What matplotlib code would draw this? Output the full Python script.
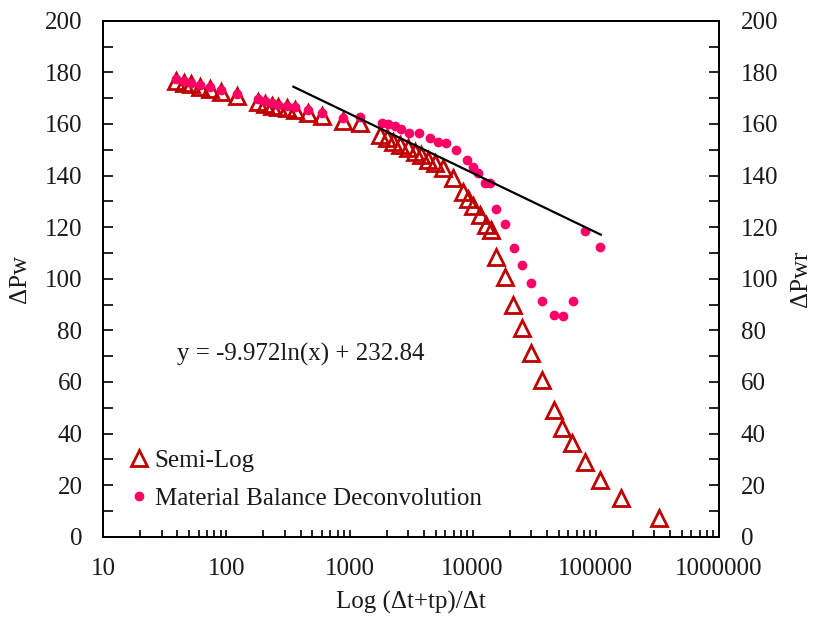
import numpy as np
import matplotlib
matplotlib.use('Agg')
import matplotlib.pyplot as plt
from matplotlib.ticker import MultipleLocator, LogLocator, FuncFormatter, NullFormatter

plt.rcParams['font.family'] = ['Liberation Serif', 'DejaVu Serif']
plt.rcParams['text.color'] = '#1a1a1a'
plt.rcParams['axes.labelcolor'] = '#1a1a1a'
plt.rcParams['xtick.color'] = 'black'
plt.rcParams['ytick.color'] = 'black'
plt.rcParams['xtick.labelcolor'] = '#1a1a1a'
plt.rcParams['ytick.labelcolor'] = '#1a1a1a'

# Semi-Log points
semi_x = [39, 45, 52, 61, 73, 91, 122,
          181, 205, 233, 263, 308, 360, 462, 593, 888, 1213,
          1760, 2010, 2270, 2560, 2990, 3390, 3840, 4350, 4920, 5750, 6940,
          8360, 9200, 10100, 11500, 12950, 14200,
          15600, 18240, 21300, 25400, 29600, 36800, 45500, 53500, 64500,
          81300, 107700, 161300, 326000]
semi_y = [176.7, 175.7, 175.3, 174.4, 173.5, 172.2, 170.9,
          168.4, 167.7, 167.1, 166.4, 166.0, 165.4, 164.3, 163.1, 161.1, 160.5,
          155.7, 154.4, 153.1, 151.8, 150.5, 149.2, 147.9, 146.0, 144.7, 142.8, 138.9,
          133.7, 131.0, 128.0, 124.7, 120.8, 118.9,
          108.5, 100.8, 89.8, 80.8, 71.1, 60.7, 49.1, 42.0, 36.2,
          29.1, 22.0, 14.9, 7.1]

# Material balance deconvolution points
mbd_x = [39, 45, 52, 61, 73, 91, 122,
         181, 205, 233, 263, 308, 360, 462, 593, 888, 1220,
         1820, 2057, 2332, 2642, 3048, 3674, 4488, 5240, 6050, 7295,
         9020, 10080, 11070, 12540, 13760,
         15600, 18450, 21580, 25370, 29990, 36900, 45800, 54200, 65300,
         81300, 109000]
mbd_y = [177.5, 176.5, 176.0, 175.2, 174.3, 173.0, 171.7,
         169.5, 168.8, 168.2, 167.5, 167.0, 166.5, 165.4, 164.2, 162.3, 162.6,
         160.5, 160.0, 159.2, 157.9, 156.6, 156.4, 154.4, 153.1, 152.5, 149.9,
         146.0, 143.4, 140.9, 137.0, 137.0,
         126.9, 121.2, 112.0, 105.3, 98.2, 91.5, 85.9, 85.5, 91.5,
         118.6, 112.4]

# log trendline from the chart's equation
trend_a = -9.972
trend_b = 232.84
trend_x = np.array([350, 110000])

FS = 18

fig = plt.figure(figsize=(8.13, 6.17), dpi=100)
ax = fig.add_axes([0.1271, 0.1301, 0.757, 0.8363])

ax.plot(semi_x, semi_y, linestyle='none', marker='^', markersize=11.5,
        markerfacecolor='none', markeredgecolor='#C00000', markeredgewidth=2.0,
        label='Semi-Log')
ax.plot(mbd_x, mbd_y, linestyle='none', marker='o', markersize=6,
        markerfacecolor='#FF0066', markeredgecolor='#FF0066',
        label='Material Balance Deconvolution')
ax.plot(trend_x, trend_a * np.log(trend_x) + trend_b, color='black', lw=1.6)

ax.set_xscale('log')
ax.set_xlim(10, 1000000)
ax.set_ylim(0, 200)

ax.xaxis.set_major_locator(LogLocator(base=10))
ax.xaxis.set_minor_locator(LogLocator(base=10, subs=np.arange(2, 10)))
ax.xaxis.set_major_formatter(FuncFormatter(lambda v, _: f'{v:.0f}'))
ax.xaxis.set_minor_formatter(NullFormatter())
ax.yaxis.set_major_locator(MultipleLocator(20))
ax.yaxis.set_minor_locator(MultipleLocator(10))

ax.tick_params(axis='x', which='both', direction='in', length=5, width=1.2,
               labelsize=FS, pad=15, top=False)
ax.tick_params(axis='y', which='both', direction='in', length=7, width=1.2,
               labelsize=FS, pad=15, right=False)

for s in ax.spines.values():
    s.set_linewidth(1.3)

ax2 = ax.twinx()
ax2.set_ylim(0, 200)
ax2.yaxis.set_major_locator(MultipleLocator(20))
ax2.yaxis.set_minor_locator(MultipleLocator(10))
ax2.tick_params(axis='y', which='both', direction='in', length=7, width=1.2,
                labelsize=FS, pad=16)
for s in ax2.spines.values():
    s.set_linewidth(1.3)

ax.set_xlabel('Log (Δt+tp)/Δt', fontsize=FS, labelpad=8)
ax.set_ylabel('ΔPw', fontsize=FS, labelpad=10)
ax2.set_ylabel('ΔPwr', fontsize=FS, labelpad=8)

ax.text(40, 70.5, 'y = -9.972ln(x) + 232.84', fontsize=FS, ha='left', va='center')

ax.legend(loc='upper left', bbox_to_anchor=(0.039, 0.170), frameon=False,
          fontsize=FS, handlelength=0.9, handletextpad=0.2, borderpad=0,
          labelspacing=0.63, borderaxespad=0)

fig.savefig('out.png', dpi=100)
